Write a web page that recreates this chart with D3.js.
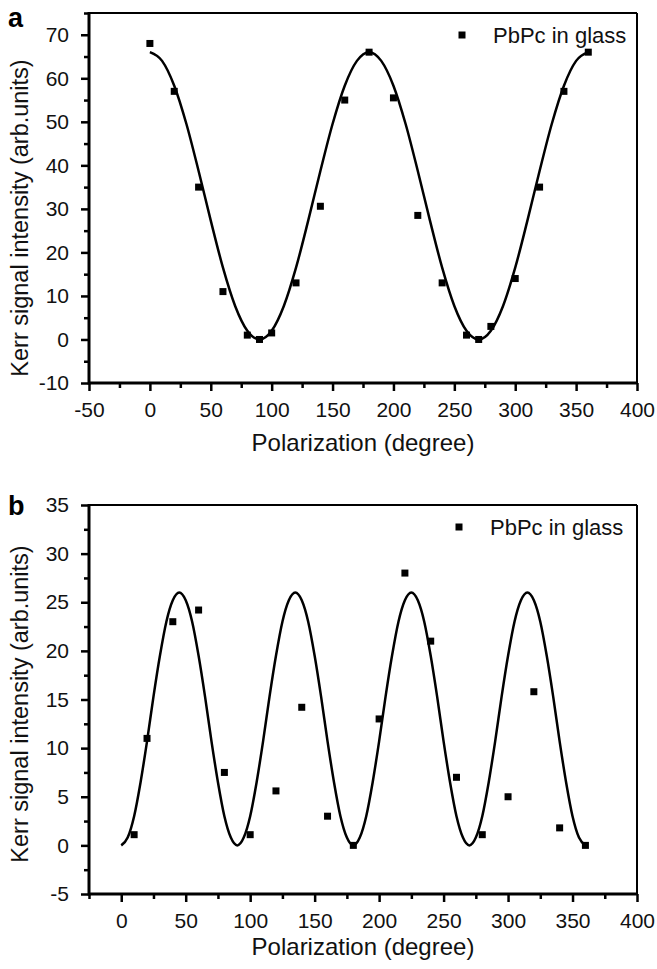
<!DOCTYPE html>
<html><head><meta charset="utf-8">
<script src="https://cdn.jsdelivr.net/npm/d3@7"></script>
<style>
html,body{margin:0;padding:0;background:#fff;}
svg{display:block;font-family:"Liberation Sans",Arial,sans-serif;}
</style></head>
<body><svg id="c" width="657" height="969"></svg>
<script>
// ---------- data (panel a) ----------
const aAngles = [0,20,40,60,80,90,100,120,140,160,180,200,220,240,260,270,280,300,320,340,360];
const aValues = [68,57,35,11,1,0,1.5,13,30.6,55,66,55.5,28.5,13,1,0,3,14,35,57,66];
const aFitAngles = [0,10,20,30,40,50,60,70,80,90,100,110,120,130,140,150,160,170,180,190,200,210,220,230,240,250,260,270,280,290,300,310,320,330,340,350,360];
const aFitValues = [66,64.0,58.3,49.5,38.7,27.3,16.5,7.7,2.0,0,2.0,7.7,16.5,27.3,38.7,49.5,58.3,64.0,66,64.0,58.3,49.5,38.7,27.3,16.5,7.7,2.0,0,2.0,7.7,16.5,27.3,38.7,49.5,58.3,64.0,66];
const aXTicks = [-50,0,50,100,150,200,250,300,350,400];
const aYTicks = [-10,0,10,20,30,40,50,60,70];

// ---------- data (panel b) ----------
const bAngles = [10,20,40,60,80,100,120,140,160,180,200,220,240,260,280,300,320,340,360];
const bValues = [1.1,11,23,24.2,7.5,1.1,5.6,14.2,3,0,13,28,21,7,1.1,5,15.8,1.8,0];
const bFitAngles = [0,5,10,15,20,25,30,35,40,45,50,55,60,65,70,75,80,85,90,95,100,105,110,115,120,125,130,135,140,145,150,155,160,165,170,175,180,185,190,195,200,205,210,215,220,225,230,235,240,245,250,255,260,265,270,275,280,285,290,295,300,305,310,315,320,325,330,335,340,345,350,355,360];
const bFitValues = [0,0.8,3.0,6.5,10.7,15.3,19.5,23.0,25.2,26,25.2,23.0,19.5,15.3,10.7,6.5,3.0,0.8,0,
                    0.8,3.0,6.5,10.7,15.3,19.5,23.0,25.2,26,25.2,23.0,19.5,15.3,10.7,6.5,3.0,0.8,0,
                    0.8,3.0,6.5,10.7,15.3,19.5,23.0,25.2,26,25.2,23.0,19.5,15.3,10.7,6.5,3.0,0.8,0,
                    0.8,3.0,6.5,10.7,15.3,19.5,23.0,25.2,26,25.2,23.0,19.5,15.3,10.7,6.5,3.0,0.8,0];
const bXTicks = [0,50,100,150,200,250,300,350,400];
const bYTicks = [-5,0,5,10,15,20,25,30,35];

const legendLabel = "PbPc in glass";
const xTitle = "Polarization (degree)";
const yTitle = "Kerr signal intensity (arb.units)";

const svg = d3.select("#c");
const fmt = d => String(d);

function panel(o){
  const g = svg.append("g");
  const x = d3.scaleLinear().domain(o.xDomain).range([o.left, o.right]);
  const y = d3.scaleLinear().domain(o.yDomain).range([o.bottom, o.top]);

  const xMinor = axisVals(o.xDomain, o.xMinorStep).filter(v => !o.xTicks.includes(v));
  const yMinor = axisVals(o.yDomain, o.yMinorStep).filter(v => !o.yTicks.includes(v));

  const xa = g.append("g").attr("transform",`translate(0,${o.bottom})`)
    .call(d3.axisBottom(x).tickValues(o.xTicks).tickFormat(fmt).tickSize(8).tickPadding(11).tickSizeOuter(0));
  const xm = g.append("g").attr("transform",`translate(0,${o.bottom})`)
    .call(d3.axisBottom(x).tickValues(xMinor).tickSize(5).tickFormat("").tickSizeOuter(0));
  const ya = g.append("g").attr("transform",`translate(${o.left},0)`)
    .call(d3.axisLeft(y).tickValues(o.yTicks).tickFormat(fmt).tickSize(8).tickPadding(12).tickSizeOuter(0));
  const ym = g.append("g").attr("transform",`translate(${o.left},0)`)
    .call(d3.axisLeft(y).tickValues(yMinor).tickSize(5).tickFormat("").tickSizeOuter(0));
  [xa,xm,ya,ym].forEach(a=>{
    a.select(".domain").remove();
    a.selectAll(".tick line").attr("stroke","#000").attr("stroke-width",2.5);
    a.selectAll(".tick text").attr("fill","#111").attr("font-size",21).attr("font-family","Liberation Sans, Arial, sans-serif");
  });

  // frame
  g.append("line").attr("x1",o.left).attr("x2",o.right).attr("y1",o.top).attr("y2",o.top).attr("stroke","#000").attr("stroke-width",2);
  g.append("line").attr("x1",o.right).attr("x2",o.right).attr("y1",o.top).attr("y2",o.bottom).attr("stroke","#000").attr("stroke-width",2);
  g.append("line").attr("x1",o.left).attr("x2",o.right+1).attr("y1",o.bottom).attr("y2",o.bottom).attr("stroke","#000").attr("stroke-width",3);
  g.append("line").attr("x1",o.left).attr("x2",o.left).attr("y1",o.top-1).attr("y2",o.bottom+1.5).attr("stroke","#000").attr("stroke-width",3);

  // fit curve
  const fit = o.fitX.map((v,i)=>[v,o.fitY[i]]);
  g.append("path").datum(fit)
    .attr("fill","none").attr("stroke","#000").attr("stroke-width",2.5)
    .attr("d", d3.line().x(d=>x(d[0])).y(d=>y(d[1])).curve(d3.curveMonotoneX));

  // points
  const s = 7;
  g.selectAll("rect.pt").data(o.px.map((v,i)=>[v,o.py[i]])).enter().append("rect")
    .attr("class","pt").attr("x",d=>x(d[0])-s/2).attr("y",d=>y(d[1])-s/2)
    .attr("width",s).attr("height",s).attr("fill","#000");

  // legend
  g.append("rect").attr("x",o.legX-3.5).attr("y",o.legY-3.5).attr("width",7).attr("height",7).attr("fill","#000");
  g.append("text").attr("x",o.legX+31).attr("y",o.legY+8).attr("font-size",22).attr("fill","#111").text(legendLabel);

  // titles
  g.append("text").attr("x",(o.left+o.right)/2).attr("y",o.xTitleY).attr("text-anchor","middle")
    .attr("font-size",24).attr("fill","#111").text(xTitle);
  g.append("text").attr("transform",`translate(${o.yTitleX},${o.yTitleCY}) rotate(-90)`)
    .attr("text-anchor","middle").attr("font-size",23.5).attr("fill","#111").text(yTitle);

  // panel letter
  g.append("text").attr("x",8).attr("y",o.letterY).attr("font-size",27).attr("font-weight","bold").attr("fill","#000").text(o.letter);
}

function axisVals(dom, step){
  const out=[]; const start=Math.ceil(dom[0]/step)*step;
  for(let v=start; v<=dom[1]+1e-9; v+=step) out.push(+v.toFixed(6));
  return out;
}

panel({
  xDomain:[-50,400], yDomain:[-10,75], left:89, right:637, top:13, bottom:383,
  xTicks:aXTicks, yTicks:aYTicks, xMinorStep:25, yMinorStep:5,
  fitX:aFitAngles, fitY:aFitValues, px:aAngles, py:aValues,
  legX:462, legY:35, xTitleY:451, yTitleX:28, yTitleCY:218, letter:"a", letterY:27
});
panel({
  xDomain:[-25,400], yDomain:[-5,35], left:89, right:637, top:505, bottom:894,
  xTicks:bXTicks, yTicks:bYTicks, xMinorStep:25, yMinorStep:2.5,
  fitX:bFitAngles, fitY:bFitValues, px:bAngles, py:bValues,
  legX:459, legY:527, xTitleY:955, yTitleX:28, yTitleCY:704, letter:"b", letterY:515
});
</script></body></html>
